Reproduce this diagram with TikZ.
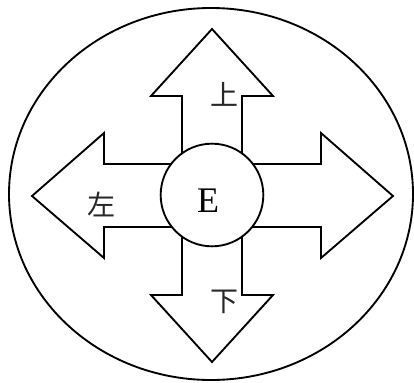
\documentclass[tikz,border=0pt]{standalone}
\usepackage{fontspec}
\setmainfont{Liberation Serif}
\newfontfamily\cjk{Noto Sans CJK SC}
\usepackage{tikz}
\usetikzlibrary{positioning}
\definecolor{cLine}{RGB}{0,0,0}
\definecolor{cWord}{RGB}{40,40,40}
\tikzset{
  outline/.style={draw=cLine,line width=1.4pt,line join=miter},
  dirlabel/.style={text=cWord,font=\cjk\fontsize{21}{21}\selectfont,inner sep=0pt}
}

\begin{document}
\begin{tikzpicture}[x=0.75pt,y=-0.75pt]
  \useasboundingbox (0,0) rectangle (414,382);
  % outer ellipse
  \draw[outline] (211,194) ellipse [x radius=202, y radius=186];
  % the four-way arrow, tips up, right, down, left
  \draw[outline,fill=white] (212,29) -- (273,96) -- (242,96) -- (242,164)
    -- (321,164) -- (321,133) -- (393,196) -- (321,258) -- (321,227)
    -- (242,227) -- (242,295) -- (273,295) -- (212,362) -- (151,295)
    -- (182,295) -- (182,227) -- (104,227) -- (104,258) -- (32,196)
    -- (104,133) -- (104,164) -- (182,164) -- (182,96) -- (151,96) -- cycle;
  \node[outline,fill=white,circle,minimum size=77pt,inner sep=0pt] (e) at (212,195) {};
  \node[font=\fontsize{27}{27}\selectfont,inner sep=0pt] (etext) at (208,201) {E};
  \node[dirlabel] (up) at (224,94) {上};
  \node[dirlabel] (left) at (101,204) {左};
  \node[dirlabel] (down) at (224,302) {下};
\end{tikzpicture}
\end{document}
